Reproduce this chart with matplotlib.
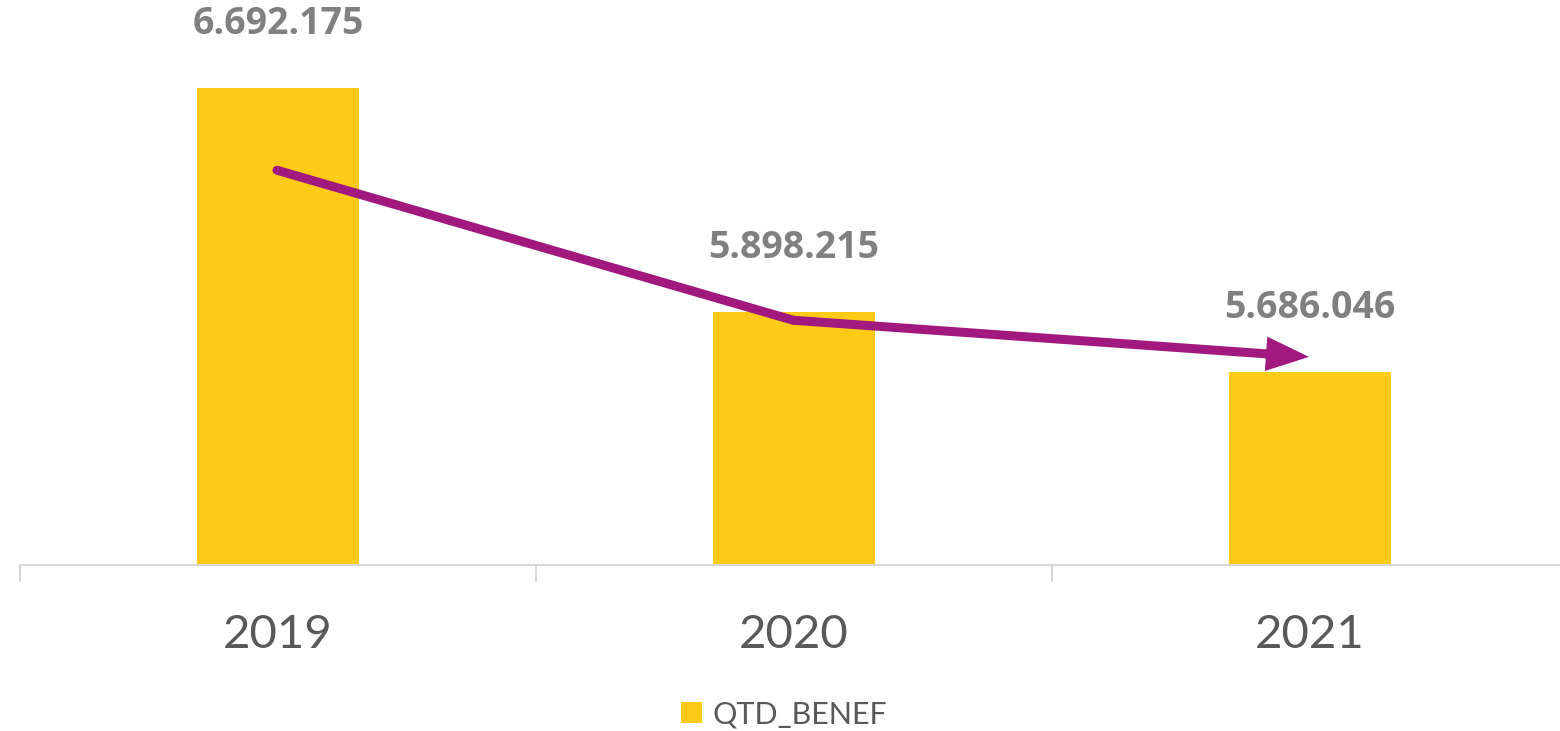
import matplotlib
matplotlib.use("Agg")
import matplotlib.pyplot as plt
from matplotlib.lines import Line2D
from matplotlib.patches import Patch

categories = ["2019", "2020", "2021"]
values = [6692175, 5898215, 5686046]
series_name = "QTD_BENEF"

def fmt(v):
    return f"{v:,}".replace(",", ".")

plt.rcParams['font.family'] = ['Lato', 'DejaVu Sans']

W, H = 1560, 731
fig = plt.figure(figsize=(W / 100, H / 100), dpi=100)
ax = fig.add_axes([20 / W, (H - 565) / H, 1548 / W, 564 / H])

bar_color = '#FCCA17'
x = list(range(len(categories)))
ax.bar(x, values, width=0.314, color=bar_color, zorder=2)
ax.set_xlim(-0.5, 2.5)
ax.set_ylim(5000000, 7000000)

for xi, v in zip(x, values):
    ax.annotate(fmt(v), (xi, v), xytext=(0, 46), textcoords='offset points',
                ha='center', va='center', fontsize=27, fontweight='bold', color='#808080',
                family=['Open Sans', 'DejaVu Sans'])

for s in ['top', 'right', 'left']:
    ax.spines[s].set_visible(False)
ax.spines['bottom'].set_color('#D9D9D9')
ax.spines['bottom'].set_linewidth(1.5)
ax.set_yticks([])
ax.set_xticks([-0.5, 0.5, 1.5, 2.5])
ax.set_xticklabels([])
ax.tick_params(axis='x', which='major', length=12, width=1.5, color='#D9D9D9')
ax.set_xticks(x, minor=True)
ax.set_xticklabels(categories, minor=True)
ax.tick_params(axis='x', which='minor', length=0, pad=35, labelsize=34, labelcolor='#595959')

# decorative trend arrow (axes fraction coordinates)
purple = '#A1197E'
p0 = (0.166, 0.700)
p1 = (0.4994, 0.434)
p2 = (0.8327, 0.369)
ax.add_line(Line2D([p0[0], p1[0]], [p0[1], p1[1]], transform=ax.transAxes,
                   color=purple, lw=6.5, solid_capstyle='round', zorder=3))
ax.annotate('', xy=p2, xytext=p1, xycoords='axes fraction', textcoords='axes fraction',
            arrowprops=dict(arrowstyle='-|>,head_length=0.95,head_width=0.38', mutation_scale=20,
                            color=purple, lw=6.5, shrinkA=0, shrinkB=0, joinstyle='miter',
                            capstyle='butt'),
            zorder=3)

handle = Patch(facecolor=bar_color, edgecolor='none')
fig.legend([handle], [series_name], loc='center', bbox_to_anchor=(784 / W, (H - 714) / H),
           frameon=False, fontsize=22, labelcolor='#595959', handlelength=0.7, handleheight=0.7,
           handletextpad=0.35)

fig.savefig('out.png', dpi=100)
